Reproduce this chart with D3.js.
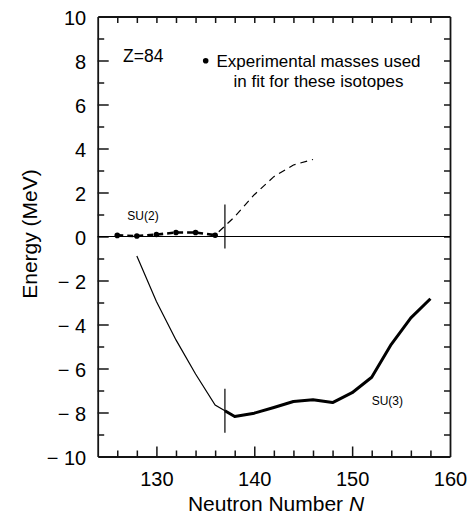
<!DOCTYPE html>
<html><head><meta charset="utf-8">
<script src="https://cdn.jsdelivr.net/npm/d3@7"></script>
<style>body{margin:0;background:#fff}</style>
</head><body><svg id="c" width="473" height="516" font-family="Liberation Sans, Arial, Helvetica, sans-serif"></svg>
<script>
// ---- data ----
const fitN = [126,128,130,132,134,136];
const fitE = [0.05,0.02,0.09,0.18,0.18,0.06];
const su2N = [136,138,140,142,144,146];
const su2E = [0.06,0.9,1.9,2.72,3.25,3.5];
const thinN = [128,130,132,134,136,137];
const thinE = [-0.89,-2.95,-4.7,-6.25,-7.66,-7.92];
const su3N = [137,138,140,142,144,146,148,150,152,154,156,158];
const su3E = [-7.92,-8.18,-8.03,-7.77,-7.5,-7.42,-7.55,-7.1,-6.4,-4.9,-3.7,-2.83];
const markerN = 137;
const markerE = [0.45,-7.92];
const markerHalf = 1.0;
const xMajor = [130,140,150,160];
const xMinor = [126,128,132,134,136,138,142,144,146,148,152,154,156,158];
const xTop = [126,128,130,132,134,136,138,140,142,144,146,148,150,152,154,156,158];
const yMajor = [-10,-8,-6,-4,-2,0,2,4,6,8,10];
const yMinor = [-9,-7,-5,-3,-1,1,3,5,7,9];
const yRight = [-9,-8,-7,-6,-5,-4,-3,-2,-1,0,1,2,3,4,5,6,7,8,9];
const labels = {z:"Z=84", leg1:"Experimental masses used", leg2:"in fit for these isotopes", su2:"SU(2)", su3:"SU(3)", ytitle:"Energy (MeV)", xtitle:"Neutron Number ", xvar:"N"};

// ---- layout ----
const L=97.7, R=450, T=16.5, B=456.5;
const x = d3.scaleLinear().domain([124,160]).range([L,R]);
const y = d3.scaleLinear().domain([-10,10]).range([B,T]);
const svg = d3.select("#c");
const fmt = d => d < 0 ? "\u2212 " + Math.abs(d) : String(d);
const line = d3.line().x(d=>x(d[0])).y(d=>y(d[1]));
const zip = (a,b)=>a.map((v,i)=>[v,b[i]]);
const ink = "#141414";

function axis(gen, tr, keepDomain){
  const g = svg.append("g").attr("transform", tr).call(gen);
  if(keepDomain) g.select(".domain").attr("stroke",ink).attr("stroke-width",1.8);
  else g.select(".domain").remove();
  g.selectAll(".tick line").attr("stroke",ink).attr("stroke-width",1.5);
  g.selectAll(".tick text").attr("font-size",20).attr("fill","#000")
    .attr("font-family","Liberation Sans, Arial, Helvetica, sans-serif");
  return g;
}
// left (domain kept = left frame edge)
axis(d3.axisLeft(y).tickValues(yMajor).tickSizeInner(0).tickSizeOuter(0).tickPadding(11.5).tickFormat(fmt), `translate(${L},0)`, true)
  .selectAll(".tick text").attr("dy","0.42em");
axis(d3.axisLeft(y).tickValues(yMajor.filter(v=>v>-10&&v<10)).tickSizeInner(-11).tickSizeOuter(0).tickFormat(""), `translate(${L},0)`, false);
axis(d3.axisLeft(y).tickValues(yMinor).tickSizeInner(-6.5).tickSizeOuter(0).tickFormat(""), `translate(${L},0)`, false);
// right (domain kept = right frame edge)
axis(d3.axisRight(y).tickValues(yRight).tickSizeInner(-6).tickSizeOuter(0).tickFormat(""), `translate(${R},0)`, true);
// bottom (domain kept)
axis(d3.axisBottom(x).tickValues(xMajor).tickSizeInner(0).tickSizeOuter(0).tickPadding(15.5).tickFormat(d3.format("d")), `translate(0,${B})`, true);
axis(d3.axisBottom(x).tickValues(xMajor.filter(v=>v<160)).tickSizeInner(-10).tickSizeOuter(0).tickFormat(""), `translate(0,${B})`, false);
axis(d3.axisBottom(x).tickValues(xMinor).tickSizeInner(-6).tickSizeOuter(0).tickFormat(""), `translate(0,${B})`, false);
// top (domain kept)
axis(d3.axisTop(x).tickValues(xTop).tickSizeInner(-6.5).tickSizeOuter(0).tickFormat(""), `translate(0,${T})`, true);

// zero line
svg.append("line").attr("x1",L).attr("x2",R).attr("y1",y(0)).attr("y2",y(0)).attr("stroke","#000").attr("stroke-width",1.2);

// SU(2) continuation (thin dashed) and fit (thick dashed with dots)
svg.append("path").attr("d",line(zip(su2N,su2E))).attr("fill","none").attr("stroke","#000")
  .attr("stroke-width",1.2).attr("stroke-dasharray","7,5").attr("stroke-dashoffset",7);
svg.append("path").attr("d",line(zip(fitN,fitE))).attr("fill","none").attr("stroke","#000")
  .attr("stroke-width",2.6).attr("stroke-dasharray","6,4");
svg.selectAll("circle.fit").data(zip(fitN,fitE)).enter().append("circle").attr("class","fit")
  .attr("cx",d=>x(d[0])).attr("cy",d=>y(d[1])).attr("r",2.8).attr("fill","#000");

// SU(3) thin & thick
svg.append("path").attr("d",line(zip(thinN,thinE))).attr("fill","none").attr("stroke","#000").attr("stroke-width",1.2);
svg.append("path").attr("d",line(zip(su3N,su3E))).attr("fill","none").attr("stroke","#000").attr("stroke-width",3).attr("stroke-linejoin","round");

// markers
markerE.forEach(e=>{
  svg.append("line").attr("x1",x(markerN)).attr("x2",x(markerN)).attr("y1",y(e+markerHalf)).attr("y2",y(e-markerHalf))
    .attr("stroke","#000").attr("stroke-width",1.2);
});

// texts
svg.append("text").attr("x",123).attr("y",62).attr("font-size",17.5).text(labels.z);
svg.append("circle").attr("cx",205.7).attr("cy",60.7).attr("r",2.8).attr("fill","#000");
svg.append("text").attr("x",318.5).attr("y",67).attr("text-anchor","middle").attr("font-size",17).text(labels.leg1);
svg.append("text").attr("x",318.5).attr("y",87).attr("text-anchor","middle").attr("font-size",17).text(labels.leg2);
svg.append("text").attr("x",127.3).attr("y",220).attr("font-size",12).text(labels.su2);
svg.append("text").attr("x",371.7).attr("y",405).attr("font-size",12).text(labels.su3);
svg.append("text").attr("transform","translate(37,234) rotate(-90)").attr("text-anchor","middle").attr("font-size",21).text(labels.ytitle);
const xt = svg.append("text").attr("x",276).attr("y",511).attr("text-anchor","middle").attr("font-size",21);
xt.append("tspan").text(labels.xtitle);
xt.append("tspan").attr("font-style","italic").text(labels.xvar);
</script></body></html>
